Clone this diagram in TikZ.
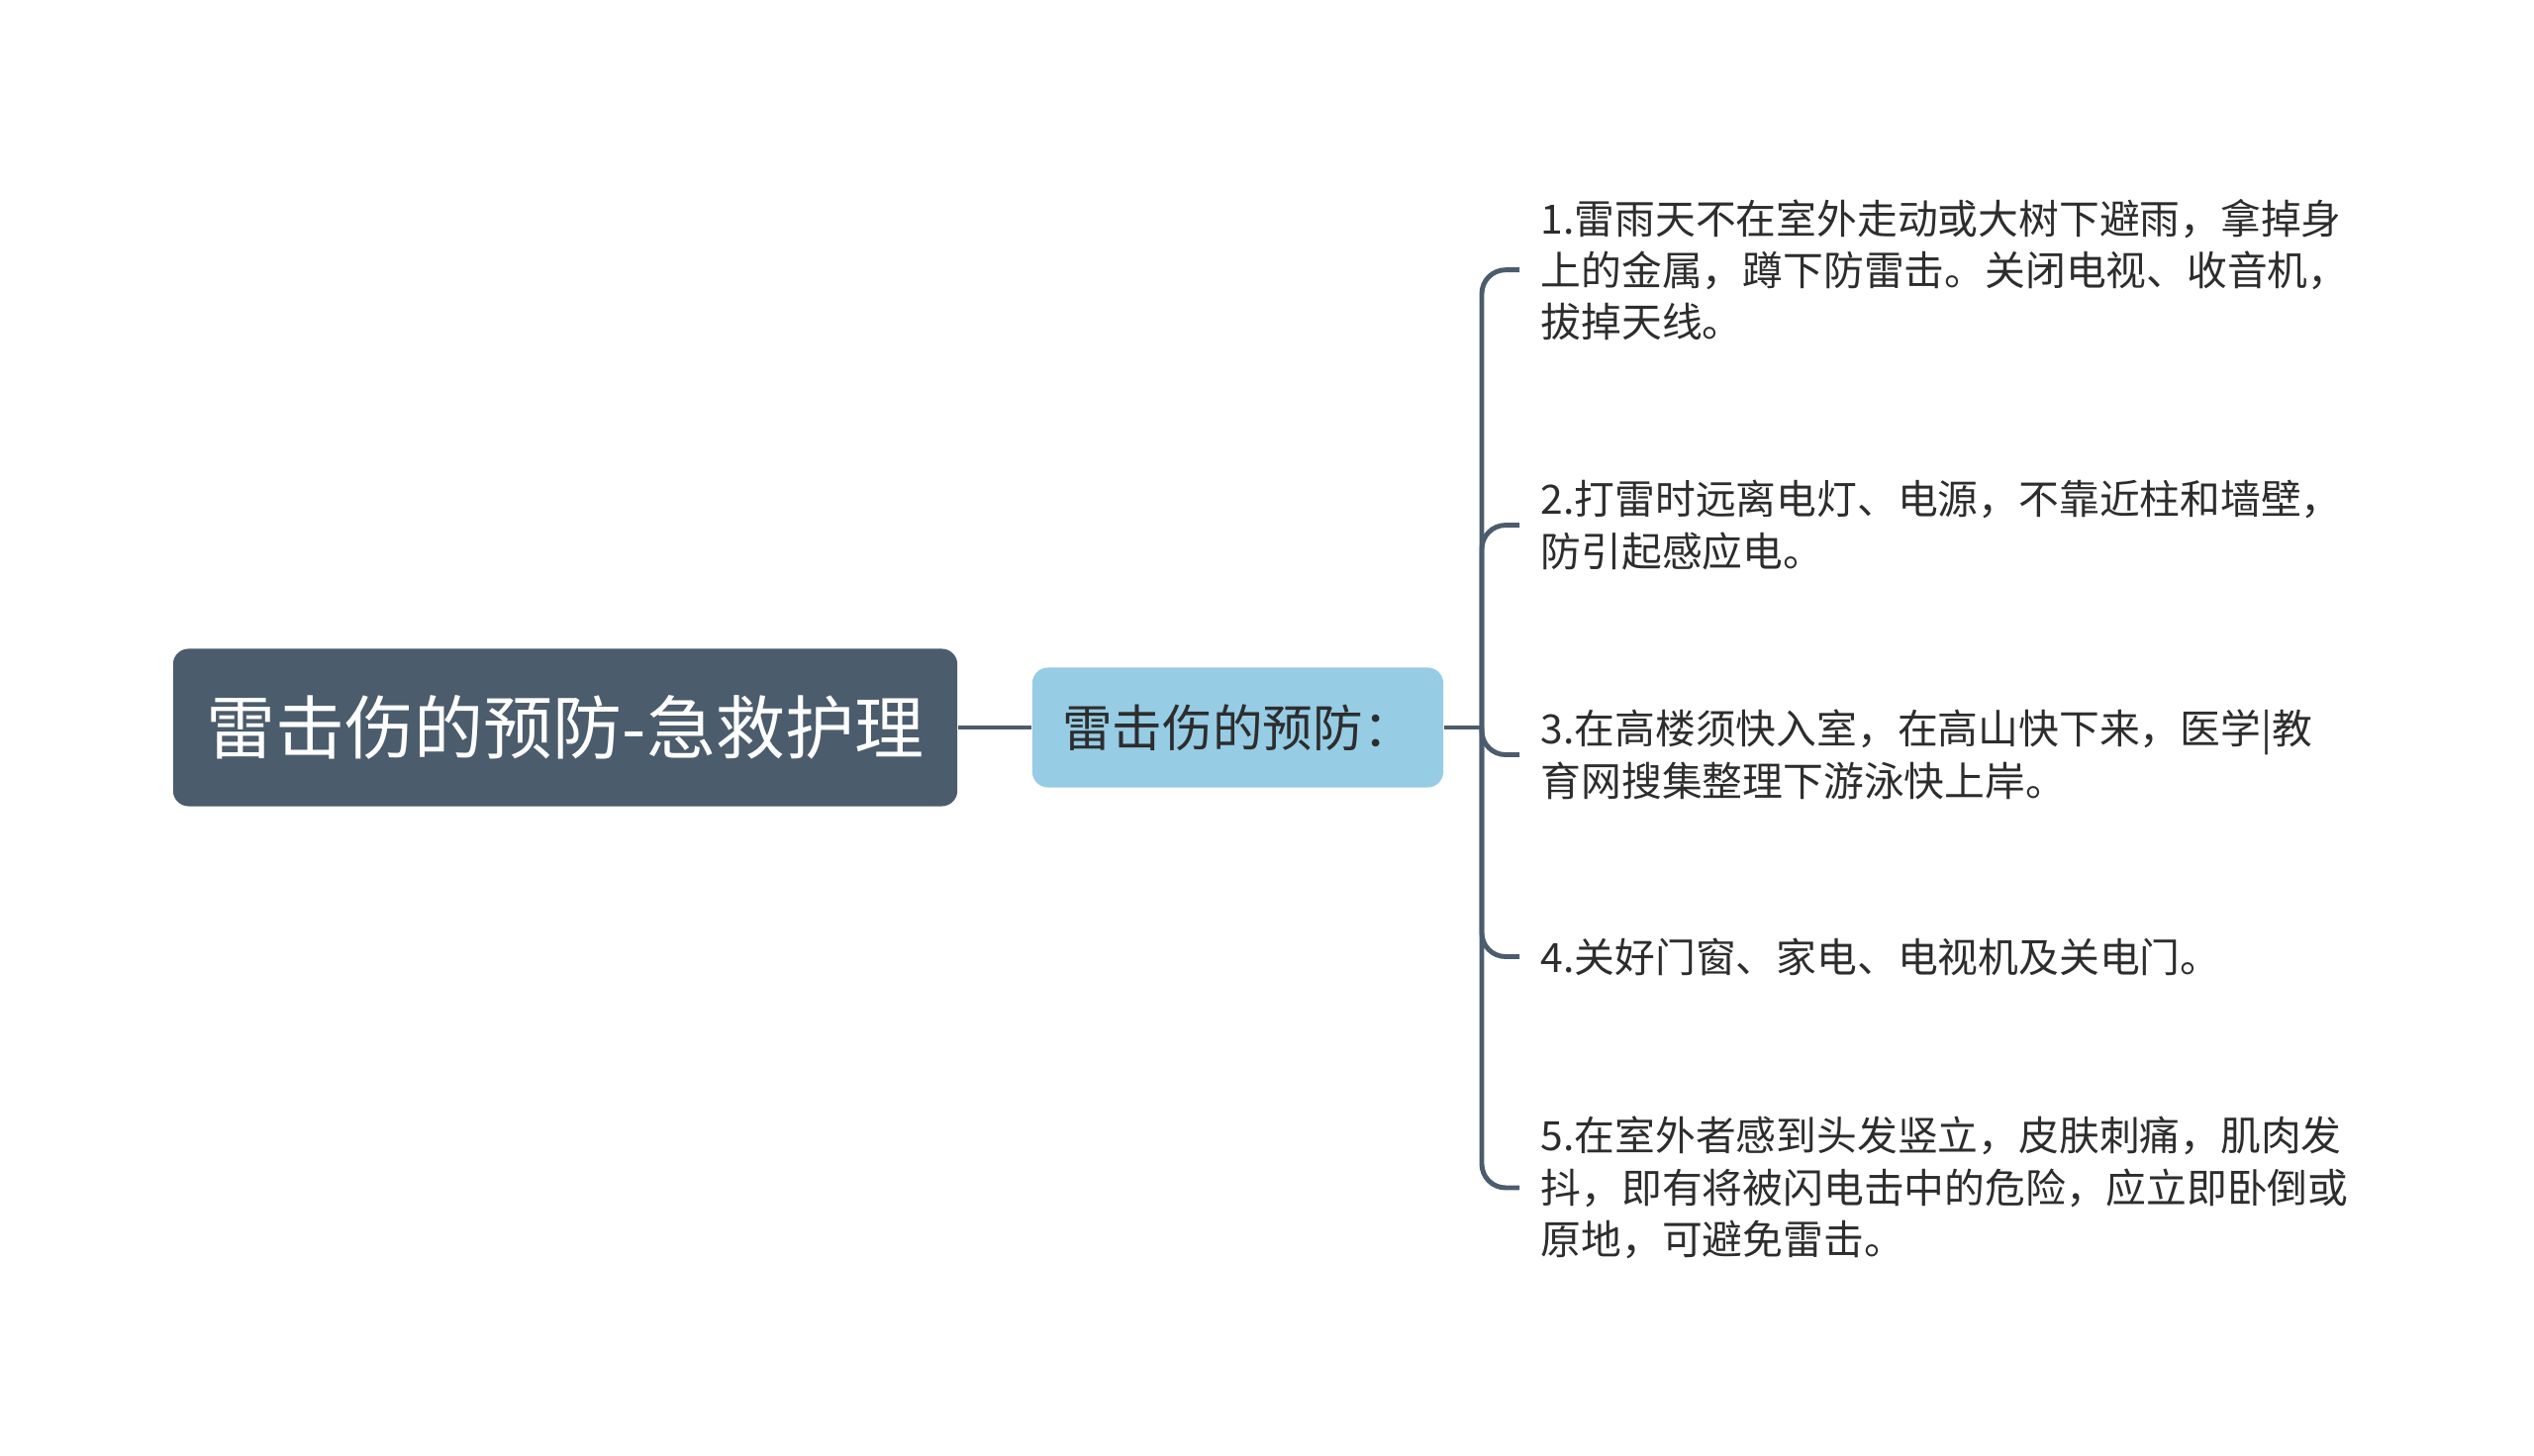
\documentclass[tikz,border=0pt]{standalone}
\usepackage{fontspec}
\setmainfont{Noto Sans CJK SC}
\definecolor{rootc}{RGB}{75,92,108}
\definecolor{subc}{RGB}{150,204,228}
\definecolor{linec}{RGB}{75,92,108}
\definecolor{textc}{RGB}{45,45,45}
\begin{document}
\begin{tikzpicture}[x=0.01cm,y=-0.01cm,
  rootbox/.style={fill=rootc, rounded corners=4.5pt, minimum width=7.92cm, minimum height=1.59cm, inner sep=0pt, text=white, font=\fontsize{19.9}{24}\selectfont},
  subbox/.style={fill=subc, rounded corners=4.5pt, minimum width=4.15cm, minimum height=1.21cm, inner sep=0pt, text=textc, font=\fontsize{14.4}{17}\selectfont},
  item/.style={anchor=west, inner sep=0pt, align=left, text=textc, font=\fontsize{11.6}{14.86}\selectfont},
  link/.style={draw=linec, line width=1.4pt},
  branch/.style={link, rounded corners=0.24cm}
]
\useasboundingbox (0,0) rectangle (2560,1471);

\node[rootbox] (root) at (571,735) {雷击伤的预防-急救护理};
\node[subbox] (sub) at (1250.5,735) {雷击伤的预防：};

\coordinate (trunk) at (1497,735);

\node[item] (i1) at (1556,272.7) {1.雷雨天不在室外走动或大树下避雨，拿掉身\\上的金属，蹲下防雷击。关闭电视、收音机，\\拔掉天线。};
\node[item] (i2) at (1556,530.6) {2.打雷时远离电灯、电源，不靠近柱和墙壁，\\防引起感应电。};
\node[item] (i3) at (1556,762.5) {3.在高楼须快入室，在高山快下来，医学|教\\育网搜集整理下游泳快上岸。};
\node[item] (i4) at (1556,966.5) {4.关好门窗、家电、电视机及关电门。};
\node[item] (i5) at (1556,1200) {5.在室外者感到头发竖立，皮肤刺痛，肌肉发\\抖，即有将被闪电击中的危险，应立即卧倒或\\原地，可避免雷击。};

\draw[link] (root.east) -- (sub.west);
\draw[link] (sub.east) -- (trunk);
\foreach \n in {i1,i2,i3,i4,i5}
  \draw[branch] (trunk) |- ([xshift=-0.21cm]\n.west);
\end{tikzpicture}
\end{document}
